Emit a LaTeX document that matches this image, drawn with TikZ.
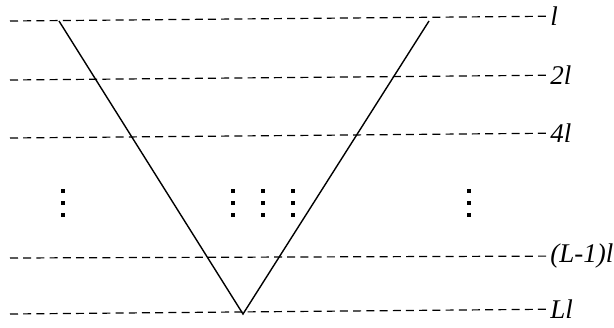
\documentclass[tikz,border=0pt]{standalone}
\usepackage{fontspec}
\setmainfont{Liberation Serif}[ItalicFont={Liberation Serif Italic}]
\usetikzlibrary{positioning}

\begin{document}
\begin{tikzpicture}%
  [x=0.5pt,y=-0.5pt,
   level/.style={dash pattern=on 4pt off 2.6pt,line width=0.6pt},
   tag/.style={anchor=mid west,inner sep=1pt,font=\fontsize{13.5}{16}\selectfont\itshape},
   side/.style={line width=0.7pt},
   dot/.style={fill,inner sep=0pt,minimum size=1.6pt}
  ]
  \useasboundingbox (0,0) rectangle (614,327);
  \foreach \y/\name/\txt in {21/l1/l,80/l2/2l,138/l4/4l,258/lm/{(L-1)l},314/lL/Ll}
  {
    \coordinate (\name-a) at (10,\y);
    \node[tag] (\name) at (548,\y) {\txt};
    \draw[level] (\name-a) -- (\name.west);
  }
  \coordinate (tl) at (59,21);
  \coordinate (tr) at (429,21);
  \coordinate (bot) at (243,314);
  \draw[side] (tl) -- (bot) -- (tr);
  \foreach \x in {63,233,263,293,469}
    \foreach \y in {191,203,215}
      \node[dot] (d\x-\y) at (\x,\y) {};
\end{tikzpicture}
\end{document}
